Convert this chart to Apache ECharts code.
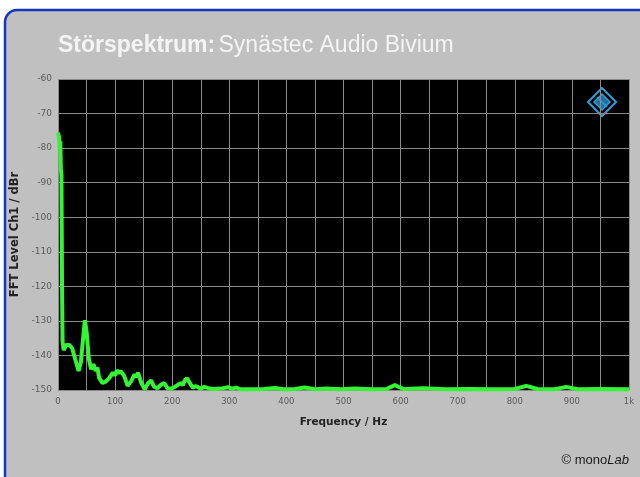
<!DOCTYPE html>
<html>
<head>
<meta charset="utf-8">
<script src="https://cdn.jsdelivr.net/npm/echarts@6/dist/echarts.min.js"></script>
<style>
  html, body { margin: 0; padding: 0; background: #ffffff; }
  #chart { width: 640px; height: 477px; }
</style>
</head>
<body>
<div id="chart"></div>
<script>
// spectrum (Hz, dBr)
var freq = [0, 1, 2, 3, 4, 5, 6, 7, 8, 10, 14, 20, 25, 30, 33, 36, 40, 44, 47, 50, 54, 58, 62, 66, 69, 72, 78, 84, 90, 96, 100, 103, 107, 110, 116, 122, 128, 134, 137, 140, 146, 152, 158, 163, 168, 174, 180, 186, 192, 198, 204, 210, 216, 219, 222, 226, 230, 236, 242, 250, 256, 262, 270, 285, 298, 305, 312, 320, 340, 360, 380, 395, 415, 432, 450, 470, 495, 520, 550, 575, 590, 605, 640, 680, 720, 760, 800, 820, 840, 870, 890, 910, 950, 1000];
var level = [-75.5, -75, -77, -80, -78, -86, -88, -118, -136, -138.5, -137, -137, -138, -141, -140.5, -144.5, -142, -135, -129.8, -133, -141, -144, -142.5, -144.5, -143.5, -146.5, -148, -147.5, -146.5, -145, -145.8, -144.3, -145.2, -144.5, -146, -148.8, -147.5, -145.5, -146.2, -145, -148, -149.8, -148, -147.2, -149, -149.5, -148.5, -148, -149.5, -149.6, -149.2, -148.5, -148, -148.6, -147.2, -146.6, -147.8, -149.3, -148.9, -149.6, -149.1, -149.4, -149.7, -149.6, -149.2, -149.6, -149.3, -149.8, -149.8, -149.7, -149.4, -149.8, -149.7, -149.3, -149.8, -149.6, -149.8, -149.6, -149.8, -149.7, -148.6, -149.7, -149.5, -149.8, -149.7, -149.8, -149.7, -148.8, -149.7, -149.8, -149.1, -149.8, -149.7, -149.8];
var xLabels = { 0: "0", 100: "100", 200: "200", 300: "300", 400: "400", 500: "500", 600: "600", 700: "700", 800: "800", 900: "900", 1000: "1k" };

var chart = echarts.init(document.getElementById("chart"));
var data = freq.map(function (f, i) { return [f, level[i]]; });

chart.setOption({
  backgroundColor: "#ffffff",
  animation: false,
  graphic: [
    {
      type: "rect",
      z: -10,
      shape: { x: 5, y: 10, width: 660, height: 500, r: 12 },
      style: { fill: "#c0c0c0", stroke: "#1535c0", lineWidth: 2.5 }
    },
    {
      type: "text",
      left: 58,
      top: 34,
      style: {
        text: "{b|Störspektrum:} {r|Synästec Audio Bivium}",
        rich: {
          b: { fontFamily: "Liberation Sans", fontWeight: "bold", fontSize: 23, fill: "#f4f4f4" },
          r: { fontFamily: "Liberation Sans", fontSize: 23, fill: "#f4f4f4" }
        }
      }
    },
    {
      type: "group",
      x: 602,
      y: 102,
      z: 20,
      children: [
        {
          type: "polygon",
          shape: { points: [[0, -14], [14, 0], [0, 14], [-14, 0]] },
          style: { fill: "none", stroke: "#2a9fdc", lineWidth: 2 }
        },
        {
          type: "polygon",
          shape: { points: [[0, -8], [8, 0], [0, 8], [-8, 0]] },
          style: { fill: "#1f6fa8", stroke: "#2a9fdc", lineWidth: 1.5 }
        },
        {
          type: "line",
          shape: { x1: -5, y1: -5, x2: 5, y2: 5 },
          style: { stroke: "#2a9fdc", lineWidth: 1.5 }
        }
      ]
    },
    {
      type: "text",
      right: 11,
      top: 454,
      style: {
        text: "© mono{i|Lab}",
        fontFamily: "Liberation Sans",
        fontSize: 13,
        fill: "#1a1a1a",
        rich: { i: { fontFamily: "Liberation Sans", fontStyle: "italic", fontSize: 13, fill: "#1a1a1a" } }
      }
    }
  ],
  grid: {
    left: 58,
    right: 11,
    top: 79,
    bottom: 87,
    show: true,
    backgroundColor: "#000000",
    borderWidth: 0
  },
  xAxis: {
    type: "value",
    min: 0,
    max: 1000,
    interval: 50,
    name: "Frequency / Hz",
    nameLocation: "middle",
    nameGap: 27,
    nameTextStyle: { fontFamily: "DejaVu Sans", fontWeight: "bold", fontSize: 10.5, color: "#222222" },
    axisLine: { show: false },
    axisTick: { show: false },
    axisLabel: {
      fontFamily: "DejaVu Sans",
      fontSize: 8.5,
      color: "#5a5a5a",
      margin: 7,
      formatter: function (v) { return xLabels[v] !== undefined ? xLabels[v] : ""; }
    },
    splitLine: { lineStyle: { color: "#8a8a8a", width: 1 } }
  },
  yAxis: {
    type: "value",
    min: -150,
    max: -60,
    interval: 10,
    name: "FFT Level Ch1 / dBr",
    nameLocation: "middle",
    nameGap: 36,
    nameTextStyle: { fontFamily: "DejaVu Sans", fontWeight: "bold", fontSize: 11.5, color: "#222222" },
    axisLine: { show: false },
    axisTick: { show: false },
    axisLabel: { fontFamily: "DejaVu Sans", fontSize: 9, color: "#5a5a5a", margin: 6 },
    splitLine: { lineStyle: { color: "#8a8a8a", width: 1 } }
  },
  series: [
    {
      type: "line",
      data: data,
      symbol: "none",
      smooth: false,
      clip: true,
      lineStyle: { color: "#33f533", width: 4 }
    }
  ]
});
</script>
</body>
</html>
